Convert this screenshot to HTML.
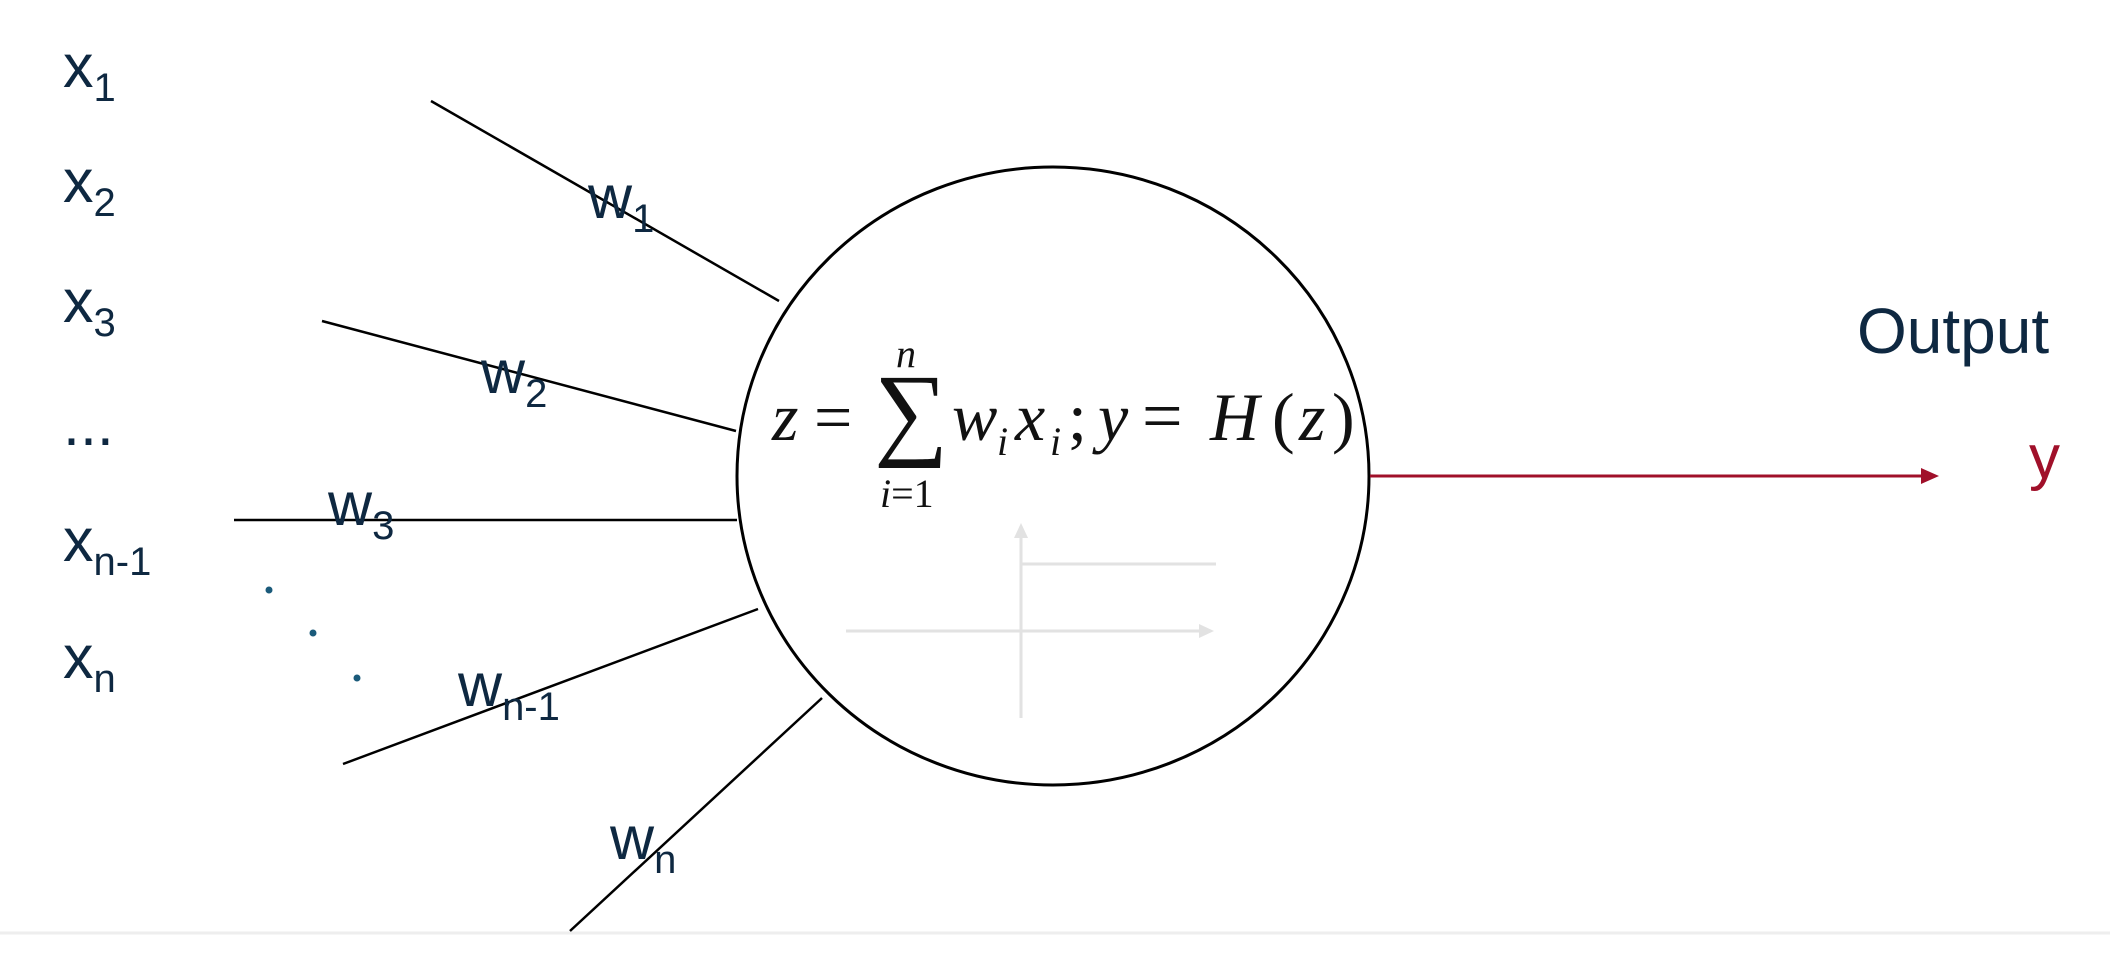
<!DOCTYPE html>
<html><head><meta charset="utf-8"><style>
html,body{margin:0;padding:0;background:#fff;}
svg{display:block;}
</style></head><body>
<svg width="2110" height="963" viewBox="0 0 2110 963" xmlns="http://www.w3.org/2000/svg">
<rect width="2110" height="963" fill="#fff"/>
<line x1="0" y1="933" x2="2110" y2="933" stroke="#eeeeee" stroke-width="3"/>
<g stroke="#e2e2e2" stroke-width="3" fill="#e2e2e2">
<line x1="1021" y1="718" x2="1021" y2="535"/>
<polygon points="1021,523 1014,538 1028,538" stroke="none"/>
<line x1="846" y1="631" x2="1200" y2="631"/>
<polygon points="1214,631 1199,624 1199,638" stroke="none"/>
<line x1="1021" y1="564" x2="1216" y2="564"/>
</g>
<ellipse cx="1053" cy="476" rx="316" ry="309" fill="none" stroke="#000" stroke-width="3"/>
<g stroke="#000" stroke-width="2.5">
<line x1="431" y1="101" x2="779" y2="301"/>
<line x1="322" y1="321" x2="736" y2="431"/>
<line x1="234" y1="520" x2="737" y2="520"/>
<line x1="758" y1="609" x2="343" y2="764"/>
<line x1="822" y1="698" x2="570" y2="931"/>
</g>
<line x1="1370" y1="476" x2="1925" y2="476" stroke="#a0102a" stroke-width="3"/>
<polygon points="1939,476 1921,468 1921,484" fill="#a0102a"/>
<g font-family="Liberation Sans, sans-serif" fill="#0e2841">
<text x="63" y="87" font-size="61">x<tspan font-size="40" dy="14">1</tspan></text>
<text x="63" y="202" font-size="61">x<tspan font-size="40" dy="14">2</tspan></text>
<text x="63" y="322" font-size="61">x<tspan font-size="40" dy="14">3</tspan></text>
<text x="63" y="445" font-size="61">...</text>
<text x="63" y="561" font-size="61">x<tspan font-size="40" dy="14">n-1</tspan></text>
<text x="63" y="678" font-size="61">x<tspan font-size="40" dy="14">n</tspan></text>
<text x="588" y="218" font-size="61">w<tspan font-size="40" dy="14">1</tspan></text>
<text x="481" y="393" font-size="61">w<tspan font-size="40" dy="14">2</tspan></text>
<text x="328" y="525" font-size="61">w<tspan font-size="40" dy="14">3</tspan></text>
<text x="458" y="706" font-size="61">w<tspan font-size="40" dy="14">n-1</tspan></text>
<text x="610" y="859" font-size="61">w<tspan font-size="40" dy="14">n</tspan></text>
<text x="1857" y="353" font-size="64">Output</text>
<text x="2029" y="478" font-size="62" fill="#a0102a">y</text>
</g>
<g fill="#1a5a7a">
<circle cx="269" cy="590" r="3.5"/><circle cx="313" cy="633" r="3.5"/><circle cx="357" cy="678" r="3.5"/>
</g>
<g font-family="Liberation Serif, serif" fill="#111">
<text x="772" y="440" font-size="68" font-style="italic">z</text>
<text x="814" y="440" font-size="68">=</text>
<text x="874" y="446" font-size="104" font-weight="normal">∑</text>
<text x="896" y="367" font-size="40" font-style="italic">n</text>
<text x="880" y="507" font-size="40"><tspan font-style="italic">i</tspan>=1</text>
<text x="952" y="440" font-size="68" font-style="italic">w</text>
<text x="997" y="455" font-size="40" font-style="italic">i</text>
<text x="1015" y="440" font-size="68" font-style="italic">x</text>
<text x="1050" y="455" font-size="40" font-style="italic">i</text>
<text x="1068" y="440" font-size="68">;</text>
<text x="1098" y="440" font-size="68" font-style="italic">y</text>
<text x="1142" y="440" font-size="72">=</text>
<text x="1210" y="440" font-size="68" font-style="italic">H</text>
<text x="1272" y="440" font-size="68">(</text>
<text x="1299" y="440" font-size="68" font-style="italic">z</text>
<text x="1332" y="440" font-size="68">)</text>
</g>
</svg>
</body></html>
